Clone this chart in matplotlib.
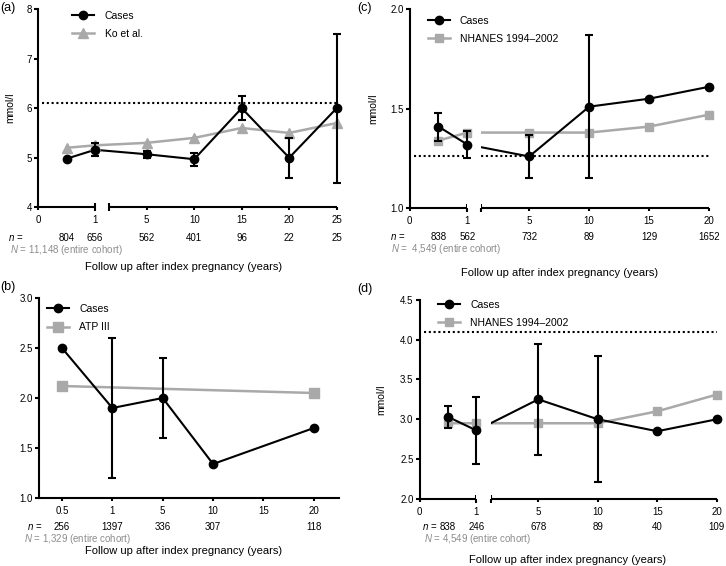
import numpy as np
import matplotlib.pyplot as plt
from matplotlib.lines import Line2D
from matplotlib import transforms

plt.rcParams['font.family'] = ['Liberation Sans', 'DejaVu Sans']
plt.rcParams['mathtext.fontset'] = 'custom'
plt.rcParams['mathtext.it'] = 'Liberation Sans:italic'
plt.rcParams['mathtext.rm'] = 'Liberation Sans'
plt.rcParams['axes.linewidth'] = 1.5

W, H = 726, 566
GRAY = '#a9a9a9'
NGRAY = '#8c8c8c'
nan = np.nan

# (a) glucose
a_x = [0.5, 1, 5, 10, 15, 20, 25]
a_cases = [4.98, 5.16, 5.07, 4.97, 6.0, 5.0, 6.0]
a_lo = [nan, 5.03, 5.0, 4.84, 5.77, 4.6, 4.5]
a_hi = [nan, 5.3, 5.14, 5.1, 6.25, 5.4, 7.5]
a_ref = [5.2, 5.25, 5.3, 5.4, 5.6, 5.5, 5.7]
a_n = ['804', '656', '562', '401', '96', '22', '25']
a_ticks = [0, 5, 10, 15, 20, 25]
a_yticks = [4, 5, 6, 7, 8]
a_cut = 6.1

# (b) triglycerides
b_labels = ['0.5', '1', '5', '10', '15', '20']
b_cases_at = ['0.5', '1', '5', '10', '20']
b_cases = [2.5, 1.9, 2.0, 1.34, 1.7]
b_lo = [nan, 1.2, 1.6, nan, nan]
b_hi = [nan, 2.6, 2.4, nan, nan]
b_ref_at = ['0.5', '20']
b_ref = [2.12, 2.05]
b_n = ['256', '1397', '336', '307', '', '118']
b_yticks = [1.0, 1.5, 2.0, 2.5, 3.0]

# (c) HDL
c_x = [0.5, 1, 5, 10, 15, 20]
c_cases = [1.41, 1.32, 1.26, 1.51, 1.55, 1.61]
c_lo = [1.34, 1.25, 1.15, 1.15, nan, nan]
c_hi = [1.48, 1.39, 1.37, 1.87, nan, nan]
c_ref = [1.34, 1.38, 1.38, 1.38, 1.41, 1.47]
c_n = ['838', '562', '732', '89', '129', '1652']
c_ticks = [0, 5, 10, 15, 20]
c_yticks = [1.0, 1.5, 2.0]
c_cut = 1.26

# (d) LDL
d_x = [0.5, 1, 5, 10, 15, 20]
d_cases = [3.03, 2.86, 3.25, 3.0, 2.85, 3.0]
d_lo = [2.89, 2.44, 2.55, 2.21, nan, nan]
d_hi = [3.17, 3.28, 3.95, 3.79, nan, nan]
d_ref = [2.95, 2.95, 2.95, 2.95, 3.1, 3.31]
d_n = ['838', '246', '678', '89', '40', '109']
d_ticks = [0, 5, 10, 15, 20]
d_yticks = [2.0, 2.5, 3.0, 3.5, 4.0, 4.5]
d_cut = 4.1


def broken_scale(L, G, R):
    # 0..1 gets L px, a gap of G px, then R px per year after 1
    def fwd(x):
        x = np.asarray(x, dtype=float)
        return np.where(x <= 1, x * L,
                        np.where(x <= 1.01, L + (x - 1) / 0.01 * G, L + G + (x - 1.01) * R))

    def inv(u):
        u = np.asarray(u, dtype=float)
        return np.where(u <= L, u / L,
                        np.where(u <= L + G, 1 + (u - L) / G * 0.01, 1.01 + (u - L - G) / R))
    return fwd, inv


fig = plt.figure(figsize=(W / 100, H / 100), dpi=100)


def add_ax(l, t, r, b):
    return fig.add_axes([l / W, 1 - b / H, (r - l) / W, (b - t) / H])


def style_y(ax, yticks, fmt):
    ax.spines['top'].set_visible(False)
    ax.spines['right'].set_visible(False)
    ax.set_ylim(yticks[0], yticks[-1])
    ax.set_yticks(yticks, [fmt.format(v) for v in yticks])
    ax.tick_params(axis='y', direction='out', length=3, width=1.5, pad=1.5, labelsize=7)


def series(ax, x, cases, lo, hi, ref, ref_marker, ref_ms):
    x = np.asarray(x, float)
    cases = np.asarray(cases, float)
    lo = np.asarray(lo, float)
    hi = np.asarray(hi, float)
    ax.plot(x, ref, '-', color=GRAY, lw=1.8, zorder=1.8)
    ax.plot(x, cases, '-', color='k', lw=1.5, zorder=2.1)
    ax.plot(x, ref, ref_marker, ls='none', color=GRAY, ms=ref_ms, zorder=3.5, clip_on=False)
    m = ~np.isnan(lo)
    ax.errorbar(x[m], cases[m], yerr=[cases[m] - lo[m], hi[m] - cases[m]], fmt='none',
                ecolor='k', elinewidth=1.5, capsize=2.7, capthick=1.5, zorder=3.8, clip_on=False)
    ax.plot(x, cases, 'o', ls='none', color='k', ms=6, zorder=4, clip_on=False)


def legend(ax, ref_label, ref_marker, ref_ms, anchor, spacing):
    h = [Line2D([], [], color='k', lw=1.5, marker='o', ms=6),
         Line2D([], [], color=GRAY, lw=1.8, marker=ref_marker, ms=ref_ms)]
    ax.legend(h, ['Cases', ref_label], loc='upper left', bbox_to_anchor=anchor, frameon=False,
              borderpad=0, borderaxespad=0, handlelength=2.1, handletextpad=1.0,
              labelspacing=spacing, fontsize=7.5)


def bottom_text(ax, xs, ns, y_n, x_nlab, y_N, x_N, N_text, x_lab, y_lab):
    tr = transforms.blended_transform_factory(ax.transData, fig.transFigure)
    for x, n in zip(xs, ns):
        ax.text(x, 1 - y_n / H, n, transform=tr, ha='center', va='center', fontsize=7)
    fig.text(x_nlab / W, 1 - y_n / H, '$n$ =', ha='left', va='center', fontsize=7)
    fig.text(x_N / W, 1 - y_N / H, '$N$ = ' + N_text + ' (entire cohort)', ha='left',
             va='center', fontsize=7, color=NGRAY)
    fig.text(x_lab / W, 1 - y_lab / H, 'Follow up after index pregnancy (years)',
             ha='center', va='center', fontsize=8)


def broken_panel(ax, xs, cases, lo, hi, ref, ref_marker, ref_ms, ticks, yticks, yfmt,
                 cut, scale, cover_gap, cut_above):
    xmax = ticks[-1]
    ax.set_xscale('function', functions=scale)
    style_y(ax, yticks, yfmt)
    ax.spines['bottom'].set_visible(False)
    series(ax, xs, cases, lo, hi, ref, ref_marker, ref_ms)
    ax.axhline(cut, xmin=0.015, color='k', lw=1.5, ls=(0, (1, 1.3)),
               zorder=3 if cut_above else 1.5)
    if cover_gap:
        ax.axvspan(1, 1.01, color='white', lw=0, zorder=2.5)
    tr = ax.get_xaxis_transform()
    ax.plot([0, 1], [0, 0], transform=tr, color='k', lw=1.5, clip_on=False,
            solid_capstyle='butt', zorder=5)
    ax.plot([1.01, xmax], [0, 0], transform=tr, color='k', lw=1.5, clip_on=False,
            solid_capstyle='butt', zorder=5)
    ax.set_xticks(ticks, [str(t) for t in ticks])
    ax.set_xticks([1, 1.01], ['1', ''], minor=True)
    ax.tick_params(axis='x', which='major', direction='out', length=2.5, width=1.5,
                   pad=3, labelsize=7)
    ax.tick_params(axis='x', which='minor', direction='inout', length=6, width=1.5,
                   pad=2.5, labelsize=7)
    ax.set_xlim(0, xmax)
    ax.set_ylim(yticks[0], yticks[-1])


# ---- (a)
sa = broken_scale(57, 13.8, 9.5)
ax_a = add_ax(38, 9, 38 + float(sa[0](25)), 207.3)
broken_panel(ax_a, a_x, a_cases, a_lo, a_hi, a_ref, '^', 6.5, a_ticks, a_yticks, '{:g}',
             a_cut, sa, False, True)
legend(ax_a, 'Ko et al.', '^', 6.5, (0.115, 0.99), 0.75)
ax_a.set_ylabel('mmol/l', fontsize=7.5)
ax_a.yaxis.set_label_coords(-23 / 298.7, 0.5)
bottom_text(ax_a, a_x, a_n, 238, 8, 250, 10, '11,148', 184, 266.7)

# ---- (c)
sc = broken_scale(57.6, 14, 12)
ax_c = add_ax(409.7, 9, 409.7 + float(sc[0](20)), 208.3)
broken_panel(ax_c, c_x, c_cases, c_lo, c_hi, c_ref, 's', 6, c_ticks, c_yticks, '{:.1f}',
             c_cut, sc, True, False)
legend(ax_c, 'NHANES 1994\u20132002', 's', 6, (0.06, 0.965), 0.75)
ax_c.set_ylabel('mmol/l', fontsize=7.5)
ax_c.yaxis.set_label_coords(-31 / 299.5, 0.5)
bottom_text(ax_c, c_x, c_n, 236.5, 390, 248.5, 391, ' 4,549', 560, 273.3)

# ---- (d)
sd = broken_scale(56.7, 14.4, 11.9)
ax_d = add_ax(419.7, 299.7, 419.7 + float(sd[0](20)), 499)
broken_panel(ax_d, d_x, d_cases, d_lo, d_hi, d_ref, 's', 6, d_ticks, d_yticks, '{:.1f}',
             d_cut, sd, True, True)
legend(ax_d, 'NHANES 1994\u20132002', 's', 6, (0.062, 1.0), 0.8)
ax_d.set_ylabel('mmol/l', fontsize=7.5)
ax_d.yaxis.set_label_coords(-33 / 296, 0.5)
bottom_text(ax_d, d_x, d_n, 526.5, 422, 538.5, 424, '4,549', 568, 559.7)

# ---- (b) categorical x
ax_b = add_ax(39.3, 298, 339, 498)
style_y(ax_b, b_yticks, '{:.1f}')
pos = {lab: i for i, lab in enumerate(b_labels)}
bx = [pos[l] for l in b_cases_at]
brx = [pos[l] for l in b_ref_at]
ax_b.plot(brx, b_ref, '-', color=GRAY, lw=1.8, zorder=1.8)
ax_b.plot(brx, b_ref, 's', ls='none', color=GRAY, ms=6.5, zorder=3.5, clip_on=False)
bxa = np.array(bx, float)
bc = np.array(b_cases)
blo = np.array(b_lo)
bhi = np.array(b_hi)
ax_b.plot(bxa, bc, '-', color='k', lw=1.5, zorder=2.1)
m = ~np.isnan(blo)
ax_b.errorbar(bxa[m], bc[m], yerr=[bc[m] - blo[m], bhi[m] - bc[m]], fmt='none', ecolor='k',
              elinewidth=1.5, capsize=2.7, capthick=1.5, zorder=3.8)
ax_b.plot(bxa, bc, 'o', ls='none', color='k', ms=6, zorder=4, clip_on=False)
ax_b.set_xticks(range(len(b_labels)), b_labels)
ax_b.tick_params(axis='x', direction='out', length=2.5, width=1.5, pad=3, labelsize=7)
ax_b.set_xlim(-0.45, 5.5)
legend(ax_b, 'ATP III', 's', 6.5, (0.026, 0.97), 0.8)
bottom_text(ax_b, range(len(b_labels)), b_n, 526.5, 27, 538.5, 24, '1,329', 184, 551)

# panel letters
for lab, x, y in [('(a)', 0, 8), ('(c)', 357, 8), ('(b)', 0, 287), ('(d)', 357, 289)]:
    fig.text(x / W, 1 - y / H, lab, ha='left', va='center', fontsize=9)

fig.savefig('out.png', dpi=100)
